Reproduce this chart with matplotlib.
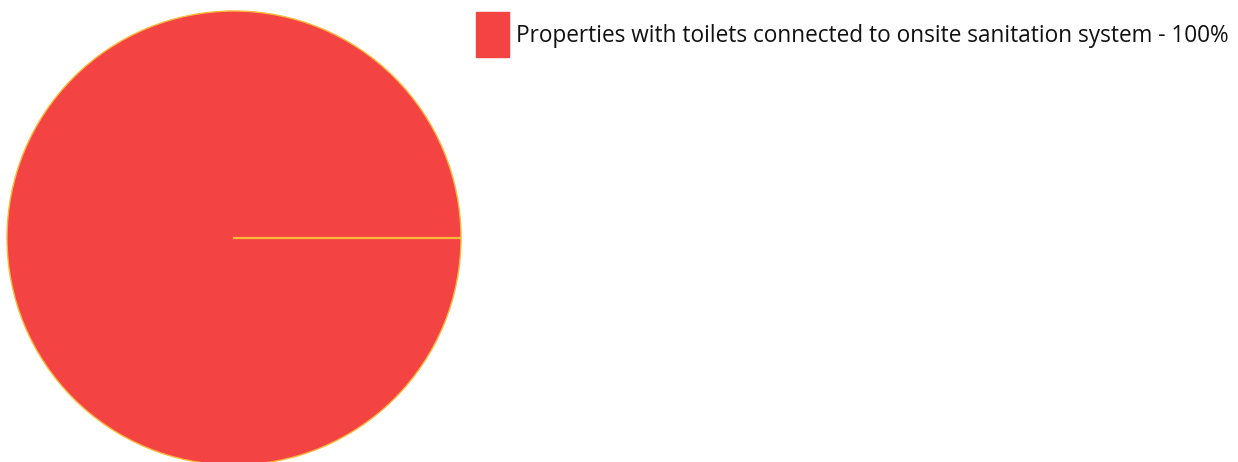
import matplotlib
matplotlib.use("Agg")
import matplotlib.pyplot as plt
import matplotlib.patches as mpatches
import numpy as np

# data
labels = ["Properties with toilets connected to onsite sanitation system"]
values = [100]
colors = ["#F44343"]
edge_col = "#F9B93A"

W, H = 1238, 462
fig = plt.figure(figsize=(W / 100, H / 100), dpi=100)

# pie axes, placed in pixels (center 234,238 radius 227)
cx, cy, r = 234, 238, 227
ax = fig.add_axes([(cx - r) / W, (H - cy - r) / H, 2 * r / W, 2 * r / H])
wedges, _ = ax.pie(values, colors=colors, startangle=0, counterclock=True,
                   wedgeprops=dict(edgecolor=edge_col, linewidth=1.0))
ax.set_xlim(-1, 1)
ax.set_ylim(-1, 1)
ax.set_aspect("equal")
ax.axis("off")

# pie drops the radial edge when one slice is the whole circle, so add it back
fracs = np.cumsum([0] + values) / sum(values)
for f in fracs[:-1]:
    a = np.deg2rad(360 * f)
    ax.plot([0, np.cos(a)], [0, np.sin(a)], color=edge_col, lw=1.6, zorder=5)

# legend
for i, (lab, v, c) in enumerate(zip(labels, values, colors)):
    fig.patches.append(mpatches.Rectangle((476 / W, (H - 57) / H), 33 / W, 45 / H,
                                          transform=fig.transFigure, color=c))
    fig.text(516 / W, (H - 41.5) / H, f"{lab} - {v}%", fontsize=16.3,
             family="Open Sans", color="#111111", va="baseline", ha="left")

fig.savefig("out.png", dpi=100)
